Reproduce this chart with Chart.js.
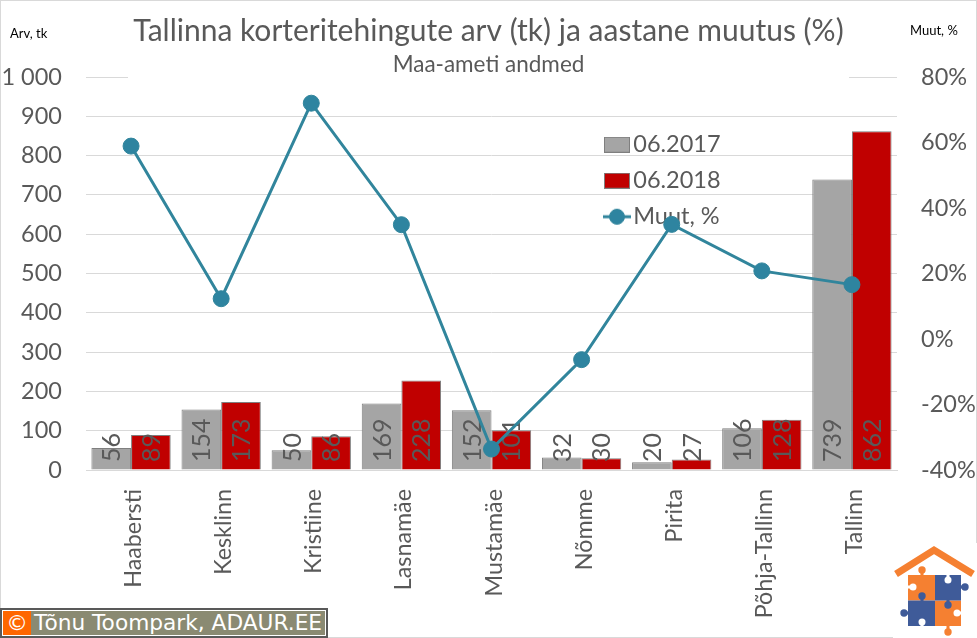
<!DOCTYPE html>
<html><head><meta charset="utf-8">
<script src="https://cdn.jsdelivr.net/npm/chart.js@4"></script>
<style>
html,body{margin:0;padding:0;background:#fff;overflow:hidden}
#wrap{position:relative;width:977px;height:638px;overflow:hidden}
canvas#c{position:absolute;left:0;top:0}
.note{position:absolute;font:13px Lato,sans-serif;color:#000;white-space:nowrap}
#badge{position:absolute;left:0;top:608px;width:328px;height:30px;box-sizing:border-box;border:2px solid #595959;background:#fff;padding:1px}
#badge .in{display:flex;height:24px;background:#8A8A72;color:#fff;font:21.7px/24px "DejaVu Sans",sans-serif;white-space:nowrap;overflow:hidden}
#badge .cc{width:28px;background:#FF6600;text-align:center;margin-right:3px}
#logo{position:absolute;left:893px;top:543px;width:84px;height:95px;background:#fff}
</style></head><body>
<div id="wrap">
<canvas id="c" width="977" height="638"></canvas>
<div class="note" style="left:10px;top:25px">Arv, tk</div>
<div class="note" style="left:910px;top:22px">Muut, %</div>
<div id="badge"><div class="in"><span class="cc">©</span><span>Tõnu Toompark, ADAUR.EE</span></div></div>
<svg id="logo" viewBox="893 543 84 95">
<g fill="#F58031" stroke="#F58031"><rect x="908" y="575" width="27" height="25.5" stroke="none"/><rect x="935" y="600.5" width="26" height="25.5" stroke="none"/><circle cx="922" cy="570" r="3.7"  stroke="none"/><circle cx="948" cy="632" r="3.7" stroke="none"/><circle cx="940" cy="587" r="3.7" stroke="none"/><circle cx="930" cy="613" r="3.7" stroke="none"/>
<path d="M922 570V576M948 632V625M940 587H934M930 613H936" stroke-width="3" fill="none"/></g>
<g fill="#3F5B99" stroke="#3F5B99"><rect x="935" y="575" width="26" height="25.5" stroke="none"/><rect x="908" y="600.5" width="27" height="25.5" stroke="none"/><circle cx="965" cy="587" r="3.7" stroke="none"/><circle cx="904" cy="613" r="3.7" stroke="none"/><circle cx="922" cy="596" r="3.7" stroke="none"/><circle cx="948" cy="605" r="3.7" stroke="none"/>
<path d="M965 587H960M904 613H909M922 596V601M948 605V600" stroke-width="3" fill="none"/></g>
<g fill="#fff" stroke="#fff"><circle cx="948" cy="580" r="3.5" stroke="none"/><circle cx="913" cy="587" r="3.5" stroke="none"/><circle cx="922" cy="622" r="3.5" stroke="none"/><circle cx="957" cy="613" r="3.5" stroke="none"/>
<path d="M948 580V574M913 587H907M922 622V627M957 613H962" stroke-width="3" fill="none"/></g>
<polyline points="896,574 934,550 973,574" fill="none" stroke="#F58031" stroke-width="7"/>
</svg>
</div>
<script>
const categories = ["Haabersti","Kesklinn","Kristiine","Lasnamäe","Mustamäe","Nõmme","Pirita","Põhja-Tallinn","Tallinn"];
const values2017 = [56,154,50,169,152,32,20,106,739];
const values2018 = [89,173,86,228,101,30,27,128,862];
const changePct = [58.9,12.3,72,34.9,-33.6,-6.3,35,20.8,16.6];
const seriesNames = ["06.2017","06.2018","Muut, %"];
const titleText = "Tallinna korteritehingute arv (tk) ja aastane muutus (%)";
const subtitleText = "Maa-ameti andmed";

const FONT = "Lato, sans-serif", TXT = "#595959", LINE = "#31859C";

function swatch(fill){
  const k=document.createElement('canvas');k.width=26;k.height=16;
  const x=k.getContext('2d');x.fillStyle=fill;x.fillRect(0,0,26,16);
  x.strokeStyle='#7F7F7F';x.lineWidth=1;x.strokeRect(.5,.5,25,15);return k;
}
function lineSwatch(){
  const k=document.createElement('canvas');k.width=28;k.height=18;
  const x=k.getContext('2d');x.strokeStyle=LINE;x.lineWidth=3;
  x.beginPath();x.moveTo(0,9);x.lineTo(28,9);x.stroke();
  x.fillStyle='#2E84A0';x.beginPath();x.arc(14,9,7.5,0,7);x.fill();
  x.strokeStyle=LINE;x.lineWidth=1;x.stroke();return k;
}
const legendIcons=[swatch('#A5A5A5'),swatch('#C00000'),lineSwatch()];

const decorPlugin={
  id:'decor',
  afterLayout(ch){
    const l=ch.legend;
    const pad=l.options.labels.padding;
    l.left=612.5-pad; l.right=l.left+200; l.top=129-pad+4; l.bottom=l.top+130;
  },
  beforeDraw(ch){
    const c=ch.ctx;c.save();c.strokeStyle='#D9D9D9';c.lineWidth=1;
    c.strokeRect(.5,.5,ch.width-1,ch.height-1);c.restore();
  },
  beforeDatasetsDraw(ch){
    const c=ch.ctx;c.save();c.fillStyle='#fff';c.fillRect(128,75,721,4);c.restore();
  },
  afterDatasetDraw(ch,args){
    if(args.index>1)return;
    const c=ch.ctx,src=args.index===0?values2017:values2018;
    const base=ch.scales.y.getPixelForValue(0);
    c.save();c.fillStyle=TXT;c.font='25px '+FONT;c.textAlign='left';c.textBaseline='middle';
    args.meta.data.forEach((b,i)=>{
      c.save();c.translate(b.x,base-8);c.rotate(-Math.PI/2);c.fillText(String(src[i]),0,1);c.restore();
    });
    c.restore();
  }
};

new Chart(document.getElementById('c'),{
  data:{labels:categories,datasets:[
    {type:'bar',label:seriesNames[0],data:values2017,backgroundColor:'#A5A5A5',borderColor:'#7F7F7F',borderWidth:1,yAxisID:'y',order:1,categoryPercentage:.88,barPercentage:1},
    {type:'bar',label:seriesNames[1],data:values2018,backgroundColor:'#C00000',borderColor:'#7F7F7F',borderWidth:1,yAxisID:'y',order:1,categoryPercentage:.88,barPercentage:1},
    {type:'line',label:seriesNames[2],data:changePct,borderColor:LINE,borderWidth:3,backgroundColor:'#2E84A0',pointBackgroundColor:'#2E84A0',pointBorderColor:LINE,pointBorderWidth:1,pointRadius:8,tension:0,yAxisID:'y2',order:0}
  ]},
  options:{
    responsive:false,animation:false,devicePixelRatio:1,
    layout:{padding:{left:0,right:0,top:0,bottom:0}},
    plugins:{
      tooltip:{enabled:false},
      title:{display:true,text:titleText,color:TXT,font:{family:FONT,size:30,weight:'normal'},padding:{top:13,bottom:3}},
      subtitle:{display:true,text:subtitleText,color:TXT,font:{family:FONT,size:22.5,weight:'normal',lineHeight:1.1},padding:{top:0,bottom:0.25}},
      legend:{display:true,position:'chartArea',align:'start',fullSize:false,
        labels:{color:TXT,font:{family:FONT,size:23.5},usePointStyle:true,pointStyleWidth:9,padding:12.5,
          generateLabels:()=>seriesNames.map((t,i)=>({text:t,fontColor:TXT,pointStyle:legendIcons[i],hidden:false,datasetIndex:i,lineWidth:0}))}}
    },
    scales:{
      x:{offset:true,grid:{display:false},border:{display:true,color:'#D9D9D9'},
        afterFit(s){s.height=168;},
        ticks:{color:TXT,font:{family:FONT,size:23.3},minRotation:90,maxRotation:90,autoSkip:false,padding:11,labelOffset:2.5}},
      y:{position:'left',min:0,max:1000,grid:{color:'#D9D9D9',drawTicks:false},border:{display:false},
        afterFit(s){s.width=86;},
        ticks:{stepSize:100,color:TXT,font:{family:FONT,size:23.5},padding:24,callback:v=>String(v).replace(/\B(?=(\d{3})+$)/g,' ')}},
      y2:{position:'right',min:-40,max:80,grid:{display:false,drawTicks:false},border:{display:false},
        afterFit(s){s.width=80;},
        ticks:{stepSize:20,color:TXT,font:{family:FONT,size:23.5},padding:24,callback:v=>v+'%'}}
    }
  },
  plugins:[decorPlugin]
});
</script>
</body></html>
